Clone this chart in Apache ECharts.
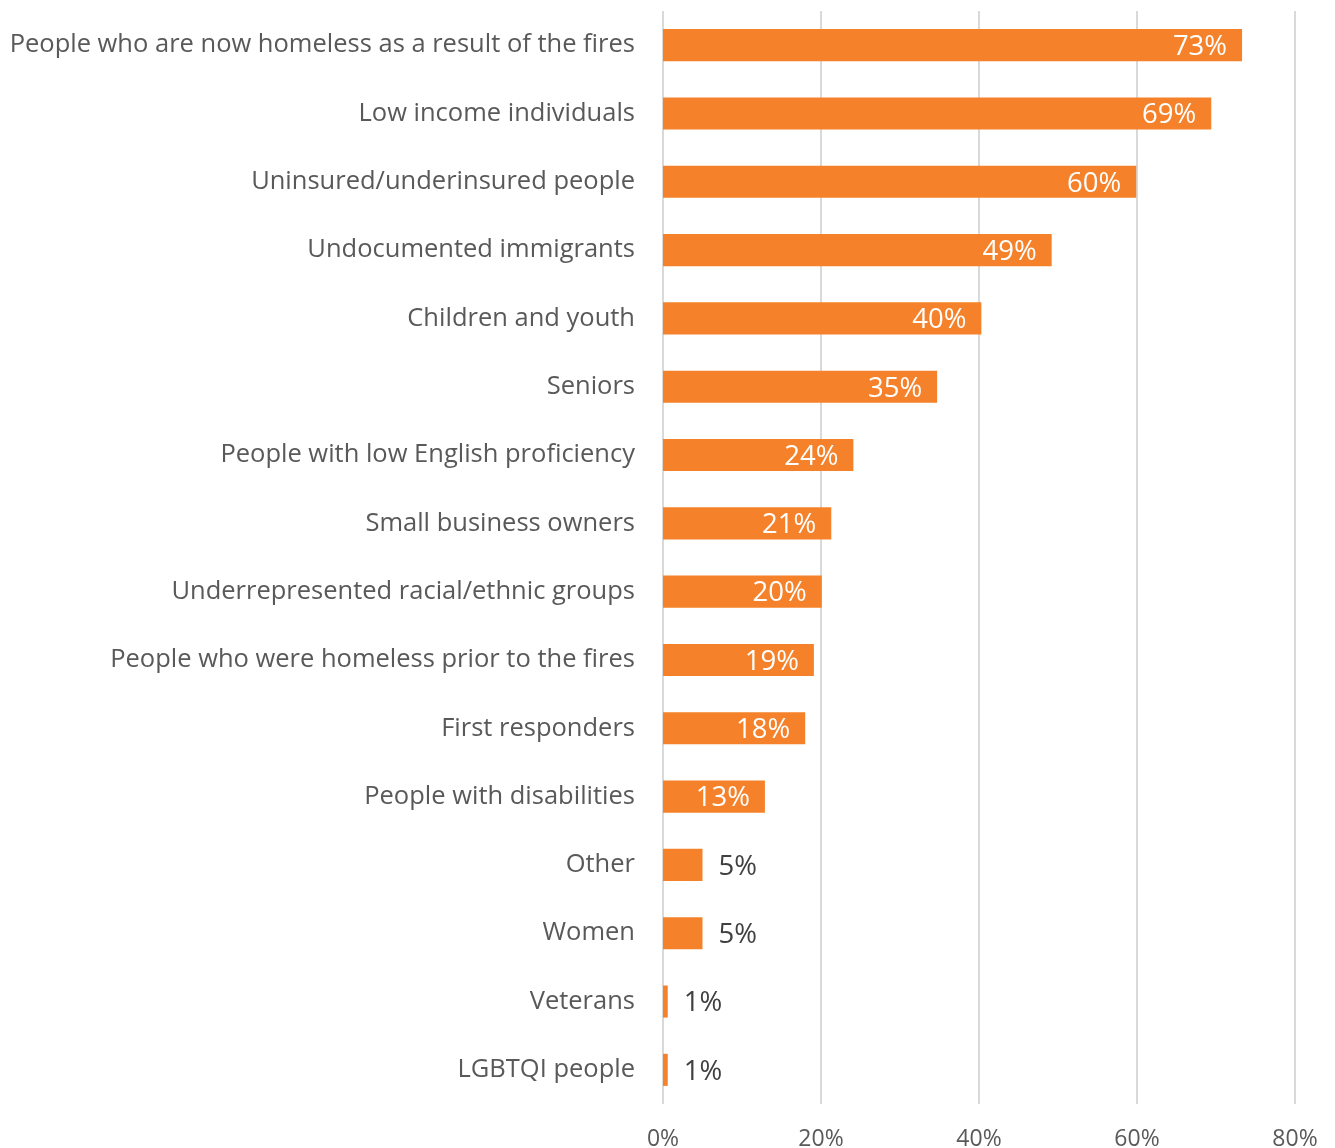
<!DOCTYPE html>
<html><head><meta charset="utf-8">
<script src="https://cdn.jsdelivr.net/npm/echarts@6/dist/echarts.min.js"></script>
<style>html,body{margin:0;padding:0;background:#fff}#c{width:1335px;height:1148px}</style>
</head><body><div id="c"></div>
<script>
const categories = [
  "People who are now homeless as a result of the fires",
  "Low income individuals",
  "Uninsured/underinsured people",
  "Undocumented immigrants",
  "Children and youth",
  "Seniors",
  "People with low English proficiency",
  "Small business owners",
  "Underrepresented racial/ethnic groups",
  "People who were homeless prior to the fires",
  "First responders",
  "People with disabilities",
  "Other",
  "Women",
  "Veterans",
  "LGBTQI people"
];
const values = [73.3, 69.4, 59.9, 49.2, 40.3, 34.7, 24.1, 21.3, 20.1, 19.1, 18.0, 12.9, 5.0, 5.0, 0.6, 0.6];
const xTicks = [0, 20, 40, 60, 80];

const FONT = "'Open Sans', 'Noto Sans', sans-serif";
const chart = echarts.init(document.getElementById('c'), null, {renderer: 'canvas'});
const data = values.map(v => {
  const inside = v >= 10;
  return {
    value: v,
    label: inside
      ? {position: 'insideRight', color: '#ffffff', distance: 15}
      : {position: 'right', color: '#404040', distance: 16}
  };
});
chart.setOption({
  animation: false,
  grid: {left: 663, right: 40, top: 11, bottom: 44, containLabel: false, outerBoundsMode: 'none'},
  xAxis: {
    type: 'value', min: 0, max: 80, interval: 20,
    axisLine: {show: false}, axisTick: {show: false},
    splitLine: {show: true, lineStyle: {color: '#d9d9d9', width: 2}},
    axisLabel: {formatter: v => xTicks.includes(v) ? v + '%' : '', color: '#595959', fontSize: 23, fontFamily: FONT, margin: 24}
  },
  yAxis: {
    type: 'category', data: categories, inverse: true,
    axisLine: {show: false}, axisTick: {show: false},
    axisLabel: {color: '#595959', fontSize: 25.5, fontFamily: FONT, margin: 28}
  },
  series: [{
    type: 'bar', data: data, barCategoryGap: '53%',
    itemStyle: {color: '#F5822A'},
    label: {show: true, fontSize: 27.5, fontFamily: FONT, offset: [0, 2], formatter: p => Math.max(1, Math.round(p.value)) + '%'}
  }]
});
</script></body></html>
